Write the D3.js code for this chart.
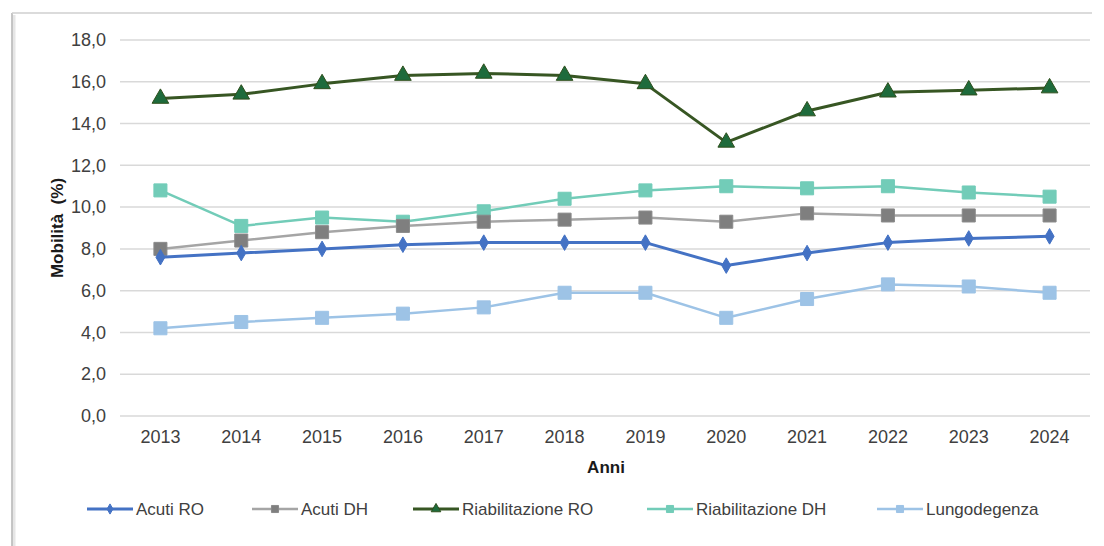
<!DOCTYPE html>
<html>
<head>
<meta charset="utf-8">
<script src="https://cdn.jsdelivr.net/npm/d3@7"></script>
<style>
  body { margin: 0; background: #fff; }
  svg { display: block; font-family: "Liberation Sans", Arial, sans-serif; }
</style>
</head>
<body>
<div id="chart"></div>
<script>
// data
var years = ["2013","2014","2015","2016","2017","2018","2019","2020","2021","2022","2023","2024"];
var acutiRO = [7.6, 7.8, 8.0, 8.2, 8.3, 8.3, 8.3, 7.2, 7.8, 8.3, 8.5, 8.6];
var acutiDH = [8.0, 8.4, 8.8, 9.1, 9.3, 9.4, 9.5, 9.3, 9.7, 9.6, 9.6, 9.6];
var riabRO  = [15.2, 15.4, 15.9, 16.3, 16.4, 16.3, 15.9, 13.1, 14.6, 15.5, 15.6, 15.7];
var riabDH  = [10.8, 9.1, 9.5, 9.3, 9.8, 10.4, 10.8, 11.0, 10.9, 11.0, 10.7, 10.5];
var lungo   = [4.2, 4.5, 4.7, 4.9, 5.2, 5.9, 5.9, 4.7, 5.6, 6.3, 6.2, 5.9];
var yTicks  = [0, 2, 4, 6, 8, 10, 12, 14, 16, 18];

var series = [
  { name: "Acuti RO",          values: acutiRO, line: "#4472C4", fill: "#4472C4", stroke: "#4472C4", shape: "diamond", w: 3 },
  { name: "Acuti DH",          values: acutiDH, line: "#A5A5A5", fill: "#7F7F7F", stroke: "#8a8a8a", shape: "square", w: 2.5 },
  { name: "Riabilitazione RO", values: riabRO,  line: "#375623", fill: "#1E6B3C", stroke: "#2E4F1C", shape: "triangle", w: 3 },
  { name: "Riabilitazione DH", values: riabDH,  line: "#72CCB8", fill: "#72CCB8", stroke: "#72CCB8", shape: "square", w: 2.5 },
  { name: "Lungodegenza",      values: lungo,   line: "#9DC3E6", fill: "#9DC3E6", stroke: "#9DC3E6", shape: "square", w: 2.5 }
];

var width = 1104, height = 546;
var margin = { left: 120, right: 14, top: 40, bottom: 130 };

var svg = d3.select("#chart").append("svg")
    .attr("width", width)
    .attr("height", height);

// frame (left and top edge with soft shadow)
svg.append("line").attr("x1", 14).attr("x2", 14).attr("y1", 15).attr("y2", height)
    .attr("stroke", "#e6e6e6").attr("stroke-width", 3);
svg.append("line").attr("x1", 12).attr("x2", 12).attr("y1", 13).attr("y2", height)
    .attr("stroke", "#b3b3b3").attr("stroke-width", 1.5);
svg.append("line").attr("x1", 12).attr("x2", 1092).attr("y1", 13).attr("y2", 13)
    .attr("stroke", "#cfcfcf").attr("stroke-width", 1.5);

var x = d3.scaleBand().domain(years).range([margin.left, width - margin.right]);
var y = d3.scaleLinear().domain([0, 18]).range([416, 40]);

// gridlines
svg.append("g").selectAll("line")
  .data(yTicks).enter().append("line")
    .attr("x1", margin.left).attr("x2", width - margin.right)
    .attr("y1", function(d) { return y(d); })
    .attr("y2", function(d) { return y(d); })
    .attr("stroke", "#d9d9d9").attr("stroke-width", 1.5);

// y axis labels
var fmt = function(d) { return d3.format(".1f")(d).replace(".", ","); };
var yAxis = svg.append("g")
    .attr("transform", "translate(" + (margin.left - 14) + ",0)")
    .call(d3.axisLeft(y).tickValues(yTicks).tickFormat(fmt).tickSize(0).tickPadding(0));
yAxis.select(".domain").remove();
yAxis.selectAll("text").attr("font-size", 18).attr("fill", "#404040")
    .attr("font-family", "Liberation Sans, Arial, sans-serif");

// x axis labels
var xAxis = svg.append("g")
    .attr("transform", "translate(0," + 430 + ")")
    .call(d3.axisBottom(x).tickSize(0).tickPadding(0));
xAxis.select(".domain").remove();
xAxis.selectAll("text").attr("font-size", 18).attr("fill", "#404040")
    .attr("font-family", "Liberation Sans, Arial, sans-serif");

// axis titles
svg.append("text")
    .attr("x", 606).attr("y", 473)
    .attr("text-anchor", "middle")
    .attr("font-size", 17).attr("font-weight", "bold").attr("fill", "#1a1a1a")
    .text("Anni");

svg.append("text")
    .attr("transform", "translate(63,228) rotate(-90)")
    .attr("text-anchor", "middle")
    .attr("font-size", 17).attr("font-weight", "bold").attr("fill", "#1a1a1a")
    .style("white-space", "pre")
    .text("Mobilità  (%)");

var symbols = {
  diamond: d3.symbol().type(d3.symbolDiamond).size(70),
  square: d3.symbol().type(d3.symbolSquare).size(170),
  triangle: d3.symbol().type(d3.symbolTriangle).size(120)
};
var legendSymbols = {
  diamond: d3.symbol().type(d3.symbolDiamond).size(30),
  square: d3.symbol().type(d3.symbolSquare).size(50),
  triangle: d3.symbol().type(d3.symbolTriangle).size(40)
};

var line = d3.line()
    .x(function(d, i) { return x(years[i]) + x.bandwidth() / 2; })
    .y(function(d) { return y(d); });

// draw in back-to-front order like the original
var order = [4, 3, 1, 0, 2];
order.forEach(function(k) {
  var s = series[k];
  var g = svg.append("g");
  g.append("path")
      .datum(s.values)
      .attr("d", line)
      .attr("fill", "none")
      .attr("stroke", s.line)
      .attr("stroke-width", s.w)
      .attr("stroke-linejoin", "round");
  g.selectAll("path.m")
    .data(s.values).enter().append("path")
      .attr("class", "m")
      .attr("d", symbols[s.shape])
      .attr("transform", function(d, i) {
        return "translate(" + (x(years[i]) + x.bandwidth() / 2) + "," + y(d) + ")";
      })
      .attr("fill", s.fill)
      .attr("stroke", s.stroke)
      .attr("stroke-width", 1);
});

// legend
var legendX = [87, 252, 413, 647, 877];
var legend = svg.append("g");
series.forEach(function(s, i) {
  var lg = legend.append("g").attr("transform", "translate(" + legendX[i] + ",509)");
  lg.append("line").attr("x1", 0).attr("x2", 46).attr("y1", 0).attr("y2", 0)
      .attr("stroke", s.line).attr("stroke-width", s.w);
  lg.append("path").attr("d", legendSymbols[s.shape])
      .attr("transform", "translate(23,0)")
      .attr("fill", s.fill).attr("stroke", s.stroke).attr("stroke-width", 1);
  lg.append("text").attr("x", 49).attr("y", 6)
      .attr("font-size", 17).attr("fill", "#404040")
      .text(s.name);
});
</script>
</body>
</html>
